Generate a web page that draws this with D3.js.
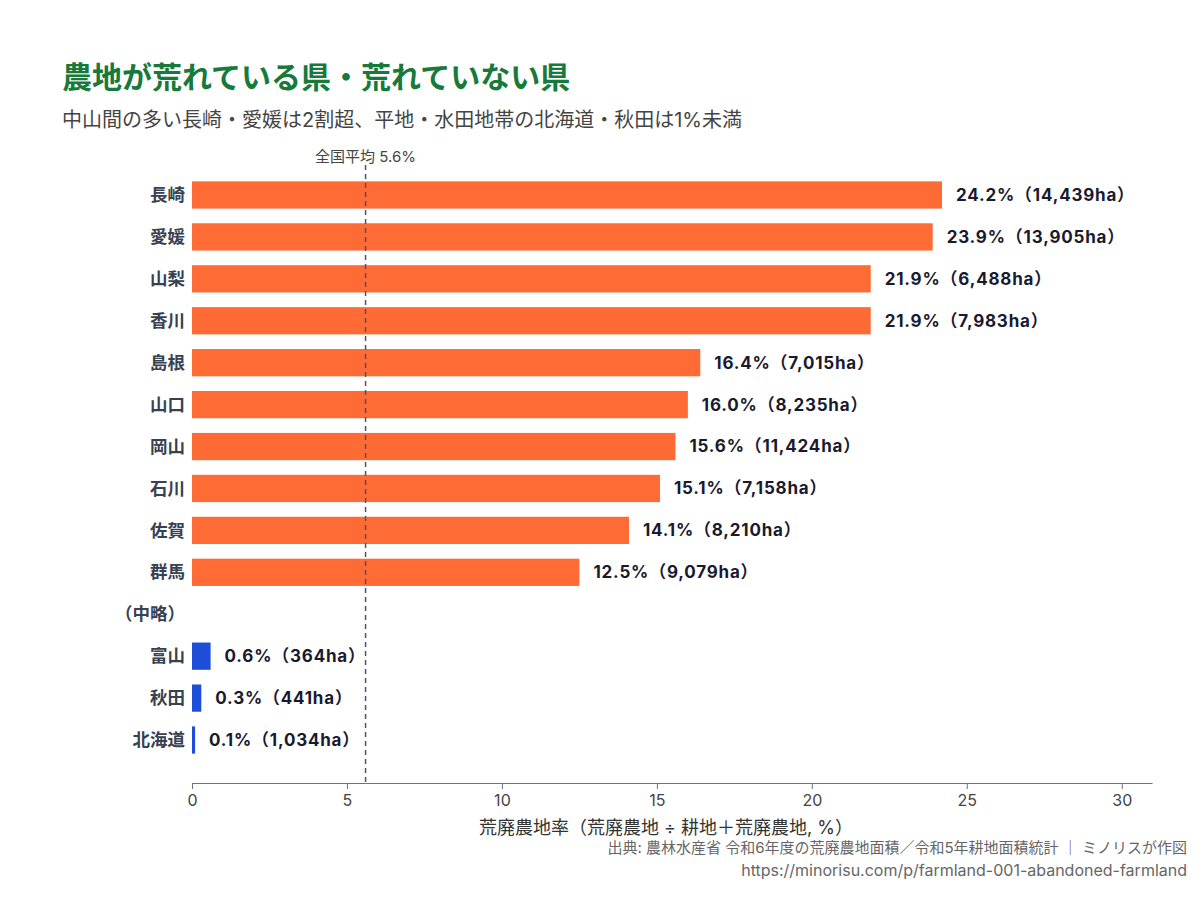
<!DOCTYPE html>
<html><head><meta charset="utf-8">
<script src="https://cdn.jsdelivr.net/npm/d3@7"></script>
<style>
body{margin:0;background:#fff;}
text{font-family:Inter,"Noto Sans CJK JP",sans-serif;}
</style></head>
<body>
<svg id="c" width="1200" height="900"></svg>
<script>
const prefectures = ["長崎","愛媛","山梨","香川","島根","山口","岡山","石川","佐賀","群馬","（中略）","富山","秋田","北海道"];
const rates = [24.2,23.9,21.9,21.9,16.4,16.0,15.6,15.1,14.1,12.5,null,0.6,0.3,0.1];
const hectares = ["14,439","13,905","6,488","7,983","7,015","8,235","11,424","7,158","8,210","9,079",null,"364","441","1,034"];
const groups = ["high","high","high","high","high","high","high","high","high","high","gap","low","low","low"];
const xTicks = [0,5,10,15,20,25,30];
const nationalAverage = 5.6;

const svg = d3.select("#c");
const x = d3.scaleLinear().domain([0, 24.2*1.28]).range([192, 1152]);
const y = d3.scaleBand().domain(prefectures).range([152, 783]).paddingInner(0.35).paddingOuter(0.7);
const color = {high:"#FF6B35", low:"#1D4ED8"};

svg.append("text").attr("x",62).attr("y",88).attr("font-size",30).attr("font-weight",700)
  .attr("fill","#177a3a").text("農地が荒れている県・荒れていない県");
svg.append("text").attr("x",62).attr("y",127).attr("font-size",20).attr("fill","#444")
  .text("中山間の多い長崎・愛媛は2割超、平地・水田地帯の北海道・秋田は1%未満");

const data = prefectures.map((p,i)=>({p, v:rates[i], ha:hectares[i], g:groups[i]}));

svg.append("g").selectAll("rect").data(data.filter(d=>d.v!=null)).join("rect")
  .attr("x",x(0)).attr("y",d=>y(d.p)).attr("width",d=>x(d.v)-x(0)).attr("height",y.bandwidth())
  .attr("fill",d=>color[d.g]);

svg.append("g").selectAll("text").data(data.filter(d=>d.v!=null)).join("text")
  .attr("x",d=>x(d.v)+14).attr("y",d=>y(d.p)+y.bandwidth()/2).attr("dy","0.35em")
  .attr("font-size",17).attr("letter-spacing","0.8px").attr("font-weight",700).attr("fill","#1a1a2e")
  .text(d=>d.v.toFixed(1)+"%（"+d.ha+"ha）");

svg.append("g").selectAll("text").data(data).join("text")
  .attr("x",185).attr("y",d=>y(d.p)+y.bandwidth()/2).attr("dy","0.35em")
  .attr("text-anchor","end").attr("font-size",17.5).attr("font-weight",700).attr("fill","#374151")
  .text(d=>d.p);

// axis
const ax = svg.append("g").attr("transform","translate(0,783)")
  .call(d3.axisBottom(x).tickValues(xTicks).tickSize(6).tickSizeOuter(0));
ax.select(".domain").attr("stroke","#6b7280");
ax.selectAll(".tick line").attr("stroke","#6b7280");
ax.selectAll(".tick text").attr("font-size",16).attr("fill","#444").attr("dy","0.9em")
  .attr("font-family","Inter,'Noto Sans CJK JP',sans-serif");

// average line
svg.append("line").attr("x1",x(nationalAverage)).attr("x2",x(nationalAverage))
  .attr("y1",165).attr("y2",783).attr("stroke","#4b5563").attr("stroke-width",1.5)
  .attr("stroke-dasharray","5,4");
svg.append("text").attr("x",x(nationalAverage)).attr("y",162).attr("text-anchor","middle")
  .attr("font-size",15).attr("fill","#444").text("全国平均 5.6%");

svg.append("text").attr("x",666).attr("y",834).attr("text-anchor","middle")
  .attr("font-size",18).attr("fill","#333").text("荒廃農地率（荒廃農地 ÷ 耕地＋荒廃農地, %）");
svg.append("text").attr("x",1187).attr("y",853).attr("text-anchor","end")
  .attr("font-size",15).attr("fill","#666").text("出典: 農林水産省 令和6年度の荒廃農地面積／令和5年耕地面積統計 ｜ ミノリスが作図");
svg.append("text").attr("x",1187).attr("y",876).attr("text-anchor","end")
  .attr("font-size",16).attr("fill","#666").text("https://minorisu.com/p/farmland-001-abandoned-farmland");
</script>
</body></html>
